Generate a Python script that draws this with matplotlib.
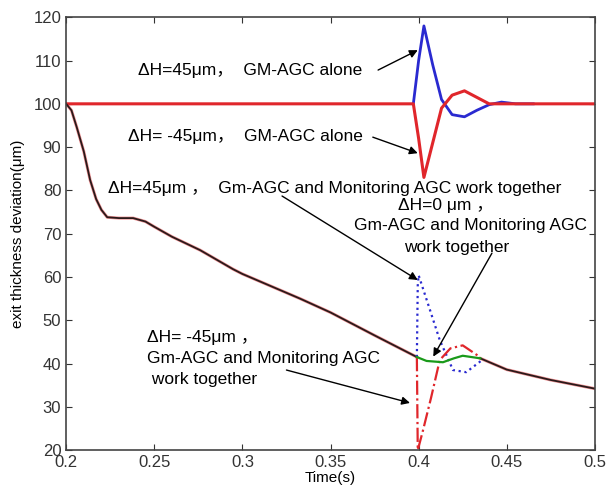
import matplotlib.pyplot as plt
import numpy as np

plt.rcParams['font.family'] = ['Liberation Sans', 'Noto Sans CJK SC', 'DejaVu Sans']

# common falling curve (all lower cases share it outside the disturbance)
base_t = [0.2, 0.203, 0.206, 0.21, 0.2136, 0.217, 0.22, 0.2233, 0.23, 0.238, 0.245,
          0.25, 0.26, 0.276, 0.2947, 0.3, 0.3327, 0.35, 0.375, 0.399]
base_y = [100, 98.5, 94.6, 89, 82.4, 78, 75.5, 73.8, 73.6, 73.6, 72.8,
          71.6, 69.3, 66.2, 61.8, 60.7, 55, 51.8, 46.5, 41.5]
tail_t = [0.435, 0.45, 0.475, 0.5]
tail_y = [41.2, 38.6, 36.2, 34.2]

# lower group, disturbance window
blue_lo_t = [0.399, 0.3995, 0.4, 0.4065, 0.412, 0.4195, 0.427, 0.436]
blue_lo_y = [41.5, 58, 60.4, 52.3, 45.4, 38.5, 38, 40.8]
red_lo_t = [0.399, 0.3995, 0.4005, 0.4025, 0.407, 0.412, 0.418, 0.425, 0.4348]
red_lo_y = [41.5, 20, 21.5, 24.6, 32, 40.8, 43.5, 44.2, 41.5]
green_t = [0.399, 0.4045, 0.4138, 0.42, 0.425, 0.435]
green_y = [41.5, 40.6, 40.3, 41.2, 41.8, 41.2]

# upper group (GM-AGC alone)
red_up_t = [0.2, 0.397, 0.4, 0.403, 0.408, 0.413, 0.419, 0.426, 0.433, 0.44, 0.5]
red_up_y = [100, 100, 92, 83, 91, 99, 102, 103, 101.5, 100, 100]
blue_up_t = [0.397, 0.4, 0.403, 0.408, 0.413, 0.419, 0.426, 0.433, 0.44, 0.447, 0.455, 0.465]
blue_up_y = [100, 110, 118, 109, 101, 97.5, 97, 98.5, 99.8, 100.4, 100, 100]

red = '#e0262b'
blue = '#2a2ad0'

fig = plt.figure(figsize=(6.07, 4.93), dpi=100)
ax = fig.add_axes([0.109, 0.087, 0.871, 0.878])

ax.plot(blue_up_t, blue_up_y, color=blue, lw=2)
ax.plot(red_up_t, red_up_y, color=red, lw=2.2)

ax.plot(base_t, base_y, color=red, lw=2.2, alpha=0.5)
ax.plot(tail_t, tail_y, color=red, lw=2.2, alpha=0.5)
ax.plot(base_t, base_y, color='#2a1a1a', lw=1.3)
ax.plot(tail_t, tail_y, color='#2a1a1a', lw=1.3)
ax.plot(blue_lo_t, blue_lo_y, color=blue, lw=1.6, ls=':')
ax.plot(red_lo_t, red_lo_y, color=red, lw=1.6, ls='-.')
ax.plot(green_t, green_y, color='#1a9a1a', lw=1.6)

ax.set_xlim(0.2, 0.5)
ax.set_ylim(20, 120)
ax.set_xticks([0.2, 0.25, 0.3, 0.35, 0.4, 0.45, 0.5])
ax.set_xticklabels(['0.2', '0.25', '0.3', '0.35', '0.4', '0.45', '0.5'])
ax.set_yticks(np.arange(20, 121, 10))
ax.tick_params(direction='in', top=True, right=True, labelsize=12, colors='#333333', length=4)
for s in ax.spines.values():
    s.set_color('#444444')
    s.set_linewidth(1.2)
ax.set_xlabel('Time(s)', fontsize=11, labelpad=1)
ax.set_ylabel('exit thickness deviation(μm)', fontsize=11, labelpad=6)

fs = 12.5
ax.text(0.2409, 107.8, 'ΔH=45μm，  GM-AGC alone', fontsize=fs, va='center')
ax.text(0.2352, 92.5, 'ΔH= -45μm，  GM-AGC alone', fontsize=fs, va='center')
ax.text(0.2238, 80.5, 'ΔH=45μm ，  Gm-AGC and Monitoring AGC work together', fontsize=fs, va='center')
ax.text(0.4155, 76.6, 'ΔH=0 μm ，', fontsize=fs, va='center', ha='center')
ax.text(0.4295, 71.9, 'Gm-AGC and Monitoring AGC', fontsize=fs, va='center', ha='center')
ax.text(0.4215, 66.9, 'work together', fontsize=fs, va='center', ha='center')
ax.text(0.246, 46.1, 'ΔH= -45μm ，', fontsize=fs, va='center')
ax.text(0.246, 41.2, 'Gm-AGC and Monitoring AGC', fontsize=fs, va='center')
ax.text(0.246, 36.4, ' work together', fontsize=fs, va='center')

arrow = dict(arrowstyle='-|>', color='black', lw=1, mutation_scale=12, shrinkA=0, shrinkB=0)
ax.annotate('', xy=(0.3995, 112.4), xytext=(0.377, 107.8), arrowprops=arrow)
ax.annotate('', xy=(0.3995, 88.6), xytext=(0.374, 92.3), arrowprops=arrow)
ax.annotate('', xy=(0.3995, 59.3), xytext=(0.3225, 78.7), arrowprops=arrow)
ax.annotate('', xy=(0.4083, 41.6), xytext=(0.4416, 65.5), arrowprops=arrow)
ax.annotate('', xy=(0.3951, 30.9), xytext=(0.325, 38.5), arrowprops=arrow)

fig.savefig('out.png', dpi=100)
